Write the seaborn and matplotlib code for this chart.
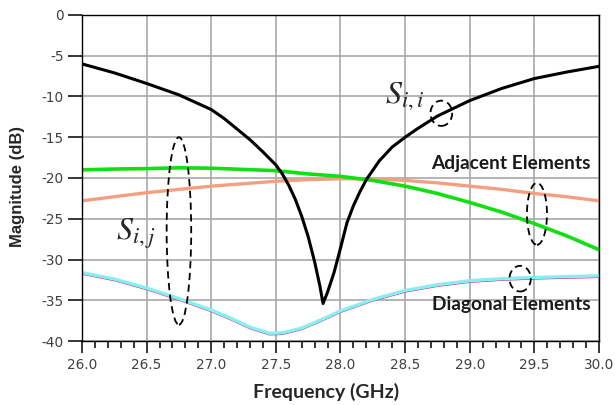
import numpy as np
import pandas as pd
import seaborn as sns
import matplotlib
matplotlib.use("Agg")
import matplotlib.pyplot as plt
from matplotlib.patches import Ellipse
from matplotlib.ticker import MultipleLocator

# S_ii (reflection)
f_sii = [26.0, 26.25, 26.5, 26.75, 27.0, 27.1, 27.2, 27.3, 27.4, 27.5, 27.55,
         27.6, 27.65, 27.7, 27.75, 27.8, 27.84, 27.865, 27.9, 27.95, 28.0,
         28.05, 28.1, 28.15, 28.2, 28.3, 28.4, 28.5, 28.6, 28.75, 29.0, 29.25,
         29.5, 29.75, 30.0]
sii = [-6.0, -7.1, -8.4, -9.8, -11.6, -12.7, -14.0, -15.3, -16.8, -18.4, -19.5,
       -20.9, -22.6, -24.7, -27.2, -30.3, -33.2, -35.4, -34.0, -31.6, -28.6,
       -25.5, -23.4, -21.7, -20.2, -17.9, -16.2, -15.0, -13.9, -12.4, -10.5,
       -9.0, -7.8, -7.0, -6.3]

# adjacent elements
f_adj = [26.0, 26.25, 26.5, 26.75, 27.0, 27.25, 27.5, 27.75, 28.0, 28.25, 28.5,
         28.75, 29.0, 29.25, 29.5, 29.75, 30.0]
adj_green = [-19.0, -18.9, -18.85, -18.75, -18.8, -18.95, -19.1, -19.5, -19.8,
             -20.3, -21.0, -21.9, -23.0, -24.2, -25.6, -27.1, -28.8]
adj_orange = [-22.8, -22.3, -21.8, -21.4, -21.0, -20.7, -20.4, -20.2, -20.1,
              -20.1, -20.3, -20.6, -21.0, -21.4, -21.9, -22.3, -22.8]

# diagonal elements
f_diag = [26.0, 26.25, 26.5, 26.75, 27.0, 27.15, 27.3, 27.45, 27.55, 27.7, 27.85,
          28.0, 28.25, 28.5, 28.75, 29.0, 29.25, 29.5, 29.75, 30.0]
diag = [-31.6, -32.4, -33.5, -34.8, -36.2, -37.2, -38.3, -39.05, -39.0, -38.4,
        -37.4, -36.3, -34.9, -33.8, -33.1, -32.6, -32.35, -32.2, -32.1, -32.0]

sns.set_style("white")
plt.rcParams['font.family'] = ['DejaVu Sans']
plt.rcParams['mathtext.fontset'] = 'stix'
plt.rcParams['axes.unicode_minus'] = False

fig, ax = plt.subplots(figsize=(6.15, 4.05), dpi=100)
fig.subplots_adjust(left=0.1333, right=0.974, bottom=0.158, top=0.963)

df_sii = pd.DataFrame({'f': f_sii, 'db': sii})
df_adj = pd.DataFrame({'f': f_adj, 'g': adj_green, 'o': adj_orange})
df_diag = pd.DataFrame({'f': f_diag, 'db': diag})
df_diag['db2'] = df_diag['db'] - 0.2

sns.lineplot(data=df_diag, x='f', y='db2', color='#d0208f', lw=0.8, ax=ax)
sns.lineplot(data=df_diag, x='f', y='db', color='#86f0f0', lw=2.4, ax=ax)
sns.lineplot(data=df_adj, x='f', y='o', color='#f4a080', lw=2.4, ax=ax)
sns.lineplot(data=df_adj, x='f', y='g', color='#10e010', lw=2.6, ax=ax)
sns.lineplot(data=df_sii, x='f', y='db', color='black', lw=2.2, ax=ax)

ax.set_xlim(26.0, 30.0)
ax.set_ylim(-40, 0)
ax.xaxis.set_major_locator(MultipleLocator(0.5))
ax.xaxis.set_minor_locator(MultipleLocator(0.1))
ax.yaxis.set_major_locator(MultipleLocator(5))
ax.xaxis.set_major_formatter(lambda v, pos: f"{v:.1f}")
ax.grid(True, which='major', color='#a8a8a8', lw=1.2)

# ticks outside, bottom/left only (white style switches them off)
ax.tick_params(axis='x', which='major', bottom=True, top=False, direction='out',
               length=8.5, width=1.1, color='black', labelcolor='#404040',
               labelsize=9.8, pad=4)
ax.tick_params(axis='x', which='minor', bottom=True, top=False, direction='out',
               length=5, width=1.1, color='black')
ax.tick_params(axis='y', which='major', left=True, right=False, direction='out',
               length=10, width=1.1, color='black', labelcolor='#404040',
               labelsize=9.8, pad=3)
ax.tick_params(axis='y', which='minor', left=False, right=False)
for s in ax.spines.values():
    s.set_color('black')
    s.set_linewidth(1.0)

ax.set_xlabel('Frequency (GHz)', family='Lato', fontweight='bold', fontsize=14)
ax.set_ylabel('Magnitude (dB)', family='Liberation Sans', fontweight='bold',
              fontsize=12)
ax.xaxis.set_label_coords(0.472, -0.128)
ax.yaxis.set_label_coords(-0.110, 0.473)

# annotations
ax.text(28.344, -10.8, r'$S_{i,i}$', fontsize=23, ha='left', va='baseline')
ax.text(26.263, -27.6, r'$S_{i,j}$', fontsize=23, ha='left', va='baseline')
ax.text(29.935, -18.9, 'Adjacent Elements', family='Lato', fontweight='bold',
        fontsize=13.8, ha='right', va='baseline', color='#1a1a1a')
ax.text(29.935, -36.2, 'Diagonal Elements', family='Lato', fontweight='bold',
        fontsize=13.8, ha='right', va='baseline', color='#1a1a1a')

ell = [(26.75, -26.5, 0.19, 23.0), (28.78, -12.06, 0.168, 3.1),
       (29.52, -24.4, 0.155, 7.6), (29.39, -32.35, 0.165, 3.15)]
for cx, cy, w, h in ell:
    ax.add_patch(Ellipse((cx, cy), w, h, fill=False, ec='black', lw=1.3,
                         ls=(0, (4, 2.5)), zorder=5))

fig.savefig('out.png', dpi=100)
